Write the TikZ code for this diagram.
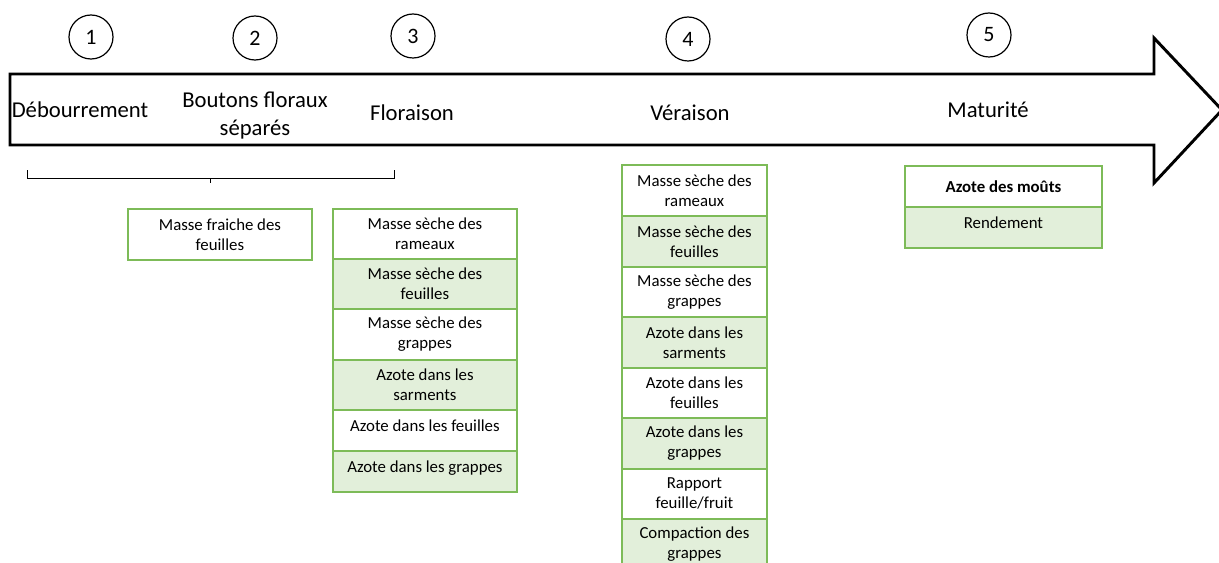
\documentclass[tikz,border=0pt]{standalone}
\usepackage{fontspec}
\setmainfont{Carlito}
\definecolor{gborder}{HTML}{7DBB58}
\definecolor{gfill}{HTML}{E2EFDA}
\tikzset{
  stage/.style={font=\fontsize{17}{21}\selectfont, align=center, inner sep=0pt},
  num/.style={circle, draw, line width=0.9pt, minimum size=33pt, inner sep=0pt, font=\fontsize{16.5}{19}\selectfont},
  cell/.style={draw=gborder, line width=1.4pt, anchor=north west, align=center, inner sep=0pt,
     font=\fontsize{12.6}{15}\selectfont},
  cellw/.style={cell, fill=white},
  cellg/.style={cell, fill=gfill},
  up/.style={text depth=7pt},
}
\begin{document}
\begin{tikzpicture}[x=0.75pt,y=-0.75pt]
\useasboundingbox (0,0) rectangle (1219,563);
\clip (0,0) rectangle (1219,563);
% main arrow
\draw[line width=2.2pt, line join=miter] (10,74) -- (1154,74) -- (1154,38) -- (1222,110) -- (1154,183) -- (1154,145) -- (10,145) -- cycle;
% circles
\node[num] (n1) at (91,37) {1};
\node[num] (n2) at (255,38) {2};
\node[num] (n3) at (413,36) {3};
\node[num] (n4) at (688,39) {4};
\node[num] (n5) at (989,35) {5};
% stage labels
\node[stage] (s1) at (80,110) {Débourrement};
\node[stage] (s2) at (255,116) {Boutons floraux\\séparés};
\node[stage] (s3) at (412,113) {Floraison};
\node[stage] (s4) at (690,113) {Véraison};
\node[stage] (s5) at (988,110) {Maturité};
% bracket
\coordinate (bl) at (27,170);
\coordinate (br) at (394,170);
\coordinate (bm) at (210,183);
\draw[line width=0.7pt] (bl) -- (27,178) -- (394,178) -- (br);
\draw[line width=0.7pt] (210,178) -- (bm);
% box under 2
\node[cellw, minimum width={184*0.75pt}, minimum height={51*0.75pt}] (b2) at (127,208) {Masse fraiche des\\feuilles};
% column under 3
\node[cellw, minimum width={184*0.75pt}, minimum height={50*0.75pt}] (c3a) at (332,208) {Masse sèche des\\rameaux};
\node[cellg, minimum width={184*0.75pt}, minimum height={50*0.75pt}] (c3b) at (332,258) {Masse sèche des\\feuilles};
\node[cellw, minimum width={184*0.75pt}, minimum height={51*0.75pt}] (c3c) at (332,308) {Masse sèche des\\grappes};
\node[cellg, minimum width={184*0.75pt}, minimum height={50*0.75pt}] (c3d) at (332,359) {Azote dans les\\sarments};
\node[cellw, up, minimum width={184*0.75pt}, minimum height={41*0.75pt}] (c3e) at (332,409) {Azote dans les feuilles};
\node[cellg, up, minimum width={184*0.75pt}, minimum height={41*0.75pt}] (c3f) at (332,450) {Azote dans les grappes};
% column under 4
\node[cellw, minimum width={145*0.75pt}, minimum height={51*0.75pt}] (c4a) at (621,164) {Masse sèche des\\rameaux};
\node[cellg, minimum width={145*0.75pt}, minimum height={51*0.75pt}] (c4b) at (621,215) {Masse sèche des\\feuilles};
\node[cellw, minimum width={145*0.75pt}, minimum height={50*0.75pt}] (c4c) at (621,266) {Masse sèche des\\grappes};
\node[cellg, minimum width={145*0.75pt}, minimum height={51*0.75pt}] (c4d) at (621,316) {Azote dans les\\sarments};
\node[cellw, minimum width={145*0.75pt}, minimum height={50*0.75pt}] (c4e) at (621,367) {Azote dans les\\feuilles};
\node[cellg, minimum width={145*0.75pt}, minimum height={51*0.75pt}] (c4f) at (621,417) {Azote dans les\\grappes};
\node[cellw, minimum width={145*0.75pt}, minimum height={50*0.75pt}] (c4g) at (621,468) {Rapport\\feuille/fruit};
\node[cellg, minimum width={145*0.75pt}, minimum height={51*0.75pt}] (c4h) at (621,518) {Compaction des\\grappes};
% column under 5
\node[cellw, minimum width={197*0.75pt}, minimum height={41*0.75pt}] (c5a) at (904,165) {\textbf{Azote des moûts}};
\node[cellg, up, minimum width={197*0.75pt}, minimum height={41*0.75pt}] (c5b) at (904,206) {Rendement};
\end{tikzpicture}
\end{document}
